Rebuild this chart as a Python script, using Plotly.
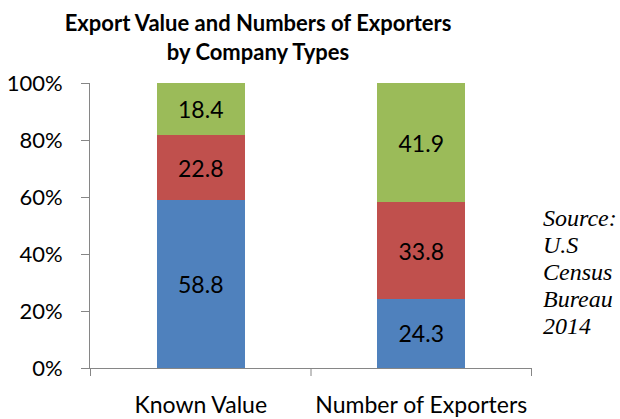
import plotly.graph_objects as go

categories = ["Known Value", "Number of Exporters"]
series_names = ["Series 1", "Series 2", "Series 3"]
blue_vals = [58.8, 24.3]
red_vals = [22.8, 33.8]
green_vals = [18.4, 41.9]
y_ticks = [0, 20, 40, 60, 80, 100]
y_tick_labels = ["0%", "20%", "40%", "60%", "80%", "100%"]
source_lines = ["Source:", "U.S", "Census", "Bureau", "2014"]

colors = ["#4F81BD", "#C0504D", "#9BBB59"]
FONT = "Lato"

W, H = 620, 419
ML, MR, MT, MB = 90, 88, 83, 51
PH = H - MT - MB

fig = go.Figure()
for name, vals, col in zip(series_names, [blue_vals, red_vals, green_vals], colors):
    fig.add_trace(go.Bar(
        x=categories, y=vals, name=name,
        marker=dict(color=col, line=dict(width=0)),
        text=[f"{v:.1f}" for v in vals],
        textposition="inside", insidetextanchor="middle",
        textangle=0,
        textfont=dict(family=FONT, size=23, color="black"),
    ))

fig.update_layout(
    barmode="stack",
    bargap=0.6,
    width=W, height=H,
    margin=dict(l=ML, r=MR, t=MT, b=MB, autoexpand=False),
    plot_bgcolor="white", paper_bgcolor="white",
    showlegend=False,
    uniformtext=dict(mode="show", minsize=23),
    title=dict(
        text="<b>Export Value and Numbers of Exporters<br>by Company Types</b>",
        x=258 / W, xanchor="center", xref="container",
        y=1 - 31 / H, yanchor="top", yref="container",
        font=dict(family=FONT, size=22, color="black"),
    ),
    font=dict(family=FONT, size=22, color="black"),
)
fig.update_yaxes(
    range=[0, 100], tickvals=y_ticks, ticktext=y_tick_labels,
    showgrid=False, showline=True, linecolor="#868686", linewidth=1,
    ticks="outside", ticklen=8, tickcolor="#868686",
    ticklabelstandoff=14, automargin=False,
    tickfont=dict(family=FONT, size=22, color="black"),
    zeroline=False,
)
fig.update_xaxes(
    showgrid=False, showline=True, linecolor="#868686", linewidth=1,
    ticks="", tickfont=dict(family=FONT, size=23, color="black"),
    ticklabelstandoff=16, automargin=False,
)
# category boundary ticks on x-axis
for xv in [-0.5, 0.5, 1.5]:
    fig.add_shape(type="line", xref="x", yref="paper", x0=xv, x1=xv, y0=0, y1=-8 / PH,
                  line=dict(color="#868686", width=1))

line_centers_px = [218, 245, 272, 299, 326]
for txt, ypx in zip(source_lines, line_centers_px):
    fig.add_annotation(
        text=txt, xref="paper", yref="paper",
        x=(541 - ML) / (W - ML - MR), y=(H - MB - ypx) / PH,
        xanchor="left", yanchor="middle", align="left", showarrow=False,
        font=dict(family="Liberation Serif", size=24, color="black", style="italic"),
    )

fig.write_html("out.html", config={"displayModeBar": False},
               post_script="document.body.style.margin='0px';")
